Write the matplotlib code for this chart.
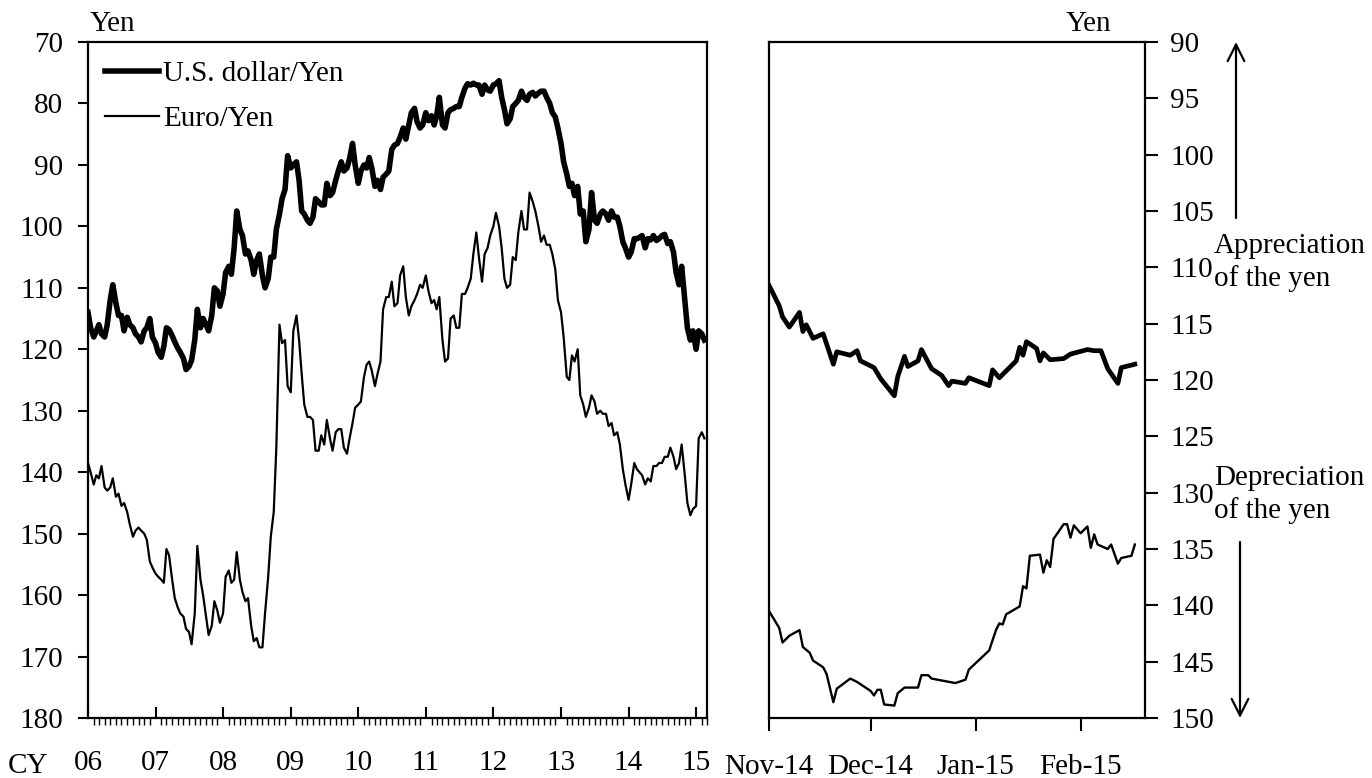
import matplotlib
matplotlib.use("Agg")
import matplotlib.pyplot as plt
import matplotlib.dates as mdates
from matplotlib.patches import FancyArrowPatch
import pandas as pd

# ---------------------------------------------------------------------------
# Data: yen exchange rates (yen per unit of foreign currency)
# Long-run panel: semi-monthly observations (1st and 15th), Jan 2006 - Feb 2015
# ---------------------------------------------------------------------------
usd_2006 = [114.0, 116.5, 118.0, 117.0, 116.0, 117.5, 118.0, 116.0, 112.0, 109.5, 112.5, 114.5,
            114.5, 117.0, 114.8, 116.0, 116.5, 117.5, 118.0, 118.8, 117.0, 116.5, 115.0, 118.0]
usd_2007 = [119.0, 120.5, 121.3, 119.5, 116.5, 116.8, 117.8, 118.8, 119.8, 120.5, 121.5, 123.3,
            122.8, 121.8, 118.5, 113.5, 116.5, 115.0, 116.0, 117.0, 114.5, 110.0, 110.5, 113.0]
usd_2008 = [111.0, 107.5, 106.5, 107.8, 103.5, 97.5, 100.5, 101.5, 104.5, 104.0, 105.5, 107.8,
            105.5, 104.5, 108.0, 110.0, 108.5, 105.0, 105.0, 100.5, 98.0, 95.5, 94.0, 88.5]
usd_2009 = [90.5, 90.0, 89.5, 92.5, 97.5, 98.0, 99.0, 99.5, 98.5, 95.5, 96.0, 96.5,
            96.5, 93.0, 95.0, 94.5, 92.5, 91.0, 89.5, 91.0, 90.5, 89.0, 86.5, 90.0]
usd_2010 = [93.0, 91.0, 90.0, 90.5, 88.8, 90.5, 93.5, 92.5, 94.0, 92.0, 91.5, 91.0,
            87.5, 86.8, 86.5, 85.5, 84.0, 85.8, 83.5, 81.5, 80.8, 83.0, 84.0, 83.5]
usd_2011 = [81.5, 82.8, 82.0, 83.5, 82.0, 79.0, 83.5, 84.0, 81.5, 81.0, 80.8, 80.5,
            80.5, 79.0, 77.5, 76.8, 77.0, 76.7, 77.0, 77.0, 78.5, 77.0, 77.8, 78.0]
usd_2012 = [77.0, 76.8, 76.3, 79.0, 81.0, 83.3, 82.5, 80.5, 80.0, 79.5, 78.0, 79.0,
            79.5, 78.5, 78.2, 78.8, 78.3, 78.0, 78.0, 79.0, 80.0, 81.5, 82.2, 84.0]
usd_2013 = [86.5, 89.5, 91.5, 93.5, 93.0, 95.0, 93.5, 98.0, 97.5, 102.5, 100.5, 94.5,
            99.0, 99.5, 98.0, 97.5, 98.0, 99.0, 97.5, 98.5, 98.5, 100.0, 102.5, 103.5]
usd_2014 = [105.0, 104.2, 102.0, 102.0, 101.8, 101.5, 103.5, 102.0, 102.2, 101.5, 102.3, 102.0,
            101.5, 101.3, 102.8, 102.5, 104.2, 107.5, 109.5, 106.5, 112.0, 116.5, 118.5, 117.0]
usd_2015 = [120.0, 117.0, 117.5, 118.5]

eur_2006 = [138.5, 140.0, 142.0, 140.5, 141.0, 139.0, 142.5, 143.0, 142.5, 141.0, 144.0, 143.5,
            145.5, 145.0, 146.5, 148.5, 150.5, 149.5, 149.0, 149.5, 150.0, 151.0, 154.5, 155.5]
eur_2007 = [156.5, 157.0, 157.5, 158.0, 152.5, 153.5, 157.5, 160.5, 162.0, 163.0, 163.5, 165.5,
            166.0, 168.0, 163.0, 152.0, 157.5, 160.0, 163.5, 166.5, 165.0, 161.0, 162.5, 164.5]
eur_2008 = [163.0, 157.0, 156.0, 158.0, 157.5, 153.0, 157.5, 159.5, 161.0, 160.5, 165.0, 167.5,
            167.0, 168.5, 168.5, 163.0, 157.0, 150.5, 146.5, 136.0, 116.0, 119.0, 118.5, 126.0]
eur_2009 = [127.0, 117.0, 114.5, 118.5, 124.0, 129.0, 131.0, 131.0, 131.5, 136.5, 136.5, 134.0,
            135.5, 131.5, 134.5, 136.5, 133.5, 133.0, 133.0, 136.0, 137.0, 134.5, 132.0, 129.5]
eur_2010 = [129.0, 128.5, 124.5, 122.5, 122.0, 123.5, 126.0, 124.0, 122.0, 113.5, 111.5, 111.5,
            109.0, 113.0, 112.5, 108.0, 106.5, 111.5, 114.5, 113.0, 112.0, 111.0, 109.5, 110.0]
eur_2011 = [108.0, 110.5, 112.5, 112.0, 113.5, 111.5, 118.5, 122.0, 121.5, 115.0, 114.5, 116.5,
            116.5, 111.0, 111.0, 110.0, 108.5, 104.5, 101.0, 105.0, 109.0, 104.5, 103.5, 101.5]
eur_2012 = [100.0, 97.8, 100.0, 103.5, 108.5, 110.0, 109.5, 105.0, 105.5, 101.0, 97.5, 100.5,
            100.5, 94.5, 96.0, 97.5, 100.0, 102.5, 101.5, 103.0, 103.0, 104.5, 107.0, 112.0]
eur_2013 = [114.0, 118.0, 124.5, 125.0, 121.0, 122.0, 120.0, 127.5, 129.0, 131.0, 129.5, 127.5,
            128.5, 130.5, 130.0, 130.5, 130.5, 132.5, 132.0, 134.0, 133.5, 135.5, 139.5, 142.0]
eur_2014 = [144.5, 142.0, 138.5, 139.5, 140.0, 140.5, 142.0, 141.0, 141.5, 139.0, 139.0, 138.5,
            138.5, 137.5, 137.5, 136.0, 137.5, 139.5, 138.5, 135.5, 140.5, 145.0, 147.0, 146.0]
eur_2015 = [145.5, 134.5, 133.5, 134.5]

long_start = "2006-01-01"
year_ticks = ["06", "07", "08", "09", "10", "11", "12", "13", "14", "15"]

# Recent panel: Nov 2014 - Feb 2015
usd_recent_dates = ["2014-11-01", "2014-11-04", "2014-11-05", "2014-11-07", "2014-11-10", "2014-11-11",
                    "2014-11-12", "2014-11-14", "2014-11-17", "2014-11-20", "2014-11-21", "2014-11-25",
                    "2014-11-27", "2014-11-28", "2014-12-02", "2014-12-04", "2014-12-08", "2014-12-09",
                    "2014-12-11", "2014-12-12", "2014-12-15", "2014-12-16", "2014-12-19", "2014-12-22",
                    "2014-12-24", "2014-12-25", "2014-12-29", "2014-12-30", "2015-01-05", "2015-01-06",
                    "2015-01-08", "2015-01-13", "2015-01-14", "2015-01-15", "2015-01-16", "2015-01-19",
                    "2015-01-20", "2015-01-21", "2015-01-23", "2015-01-27", "2015-01-29", "2015-02-03",
                    "2015-02-05", "2015-02-07", "2015-02-09", "2015-02-12", "2015-02-13", "2015-02-17"]
usd_recent = [111.6, 113.4, 114.4, 115.3, 114.0, 115.7,
              115.1, 116.3, 115.9, 118.6, 117.5, 117.8,
              117.4, 118.3, 118.9, 119.9, 121.4, 119.7,
              117.9, 118.8, 118.3, 117.3, 119.0, 119.6,
              120.5, 120.1, 120.3, 119.8, 120.5, 119.1,
              119.8, 118.3, 117.1, 117.8, 116.6, 117.2,
              118.3, 117.6, 118.2, 118.1, 117.7, 117.3,
              117.4, 117.4, 119.0, 120.3, 118.9, 118.6]

eur_recent_dates = ["2014-11-01", "2014-11-04", "2014-11-05", "2014-11-07", "2014-11-10", "2014-11-11",
                    "2014-11-13", "2014-11-14", "2014-11-17", "2014-11-18", "2014-11-20", "2014-11-21",
                    "2014-11-25", "2014-11-27", "2014-12-01", "2014-12-02", "2014-12-03", "2014-12-04",
                    "2014-12-05", "2014-12-08", "2014-12-09", "2014-12-11", "2014-12-15", "2014-12-16",
                    "2014-12-18", "2014-12-19", "2014-12-26", "2014-12-29", "2014-12-30", "2015-01-05",
                    "2015-01-07", "2015-01-08", "2015-01-09", "2015-01-10", "2015-01-14", "2015-01-15",
                    "2015-01-16", "2015-01-17", "2015-01-20", "2015-01-21", "2015-01-22", "2015-01-23",
                    "2015-01-24", "2015-01-27", "2015-01-28", "2015-01-29", "2015-01-30", "2015-02-01",
                    "2015-02-03", "2015-02-04", "2015-02-05", "2015-02-06", "2015-02-09", "2015-02-10",
                    "2015-02-12", "2015-02-13", "2015-02-16", "2015-02-17"]
eur_recent = [140.5, 142.0, 143.3, 142.7, 142.2, 143.7,
              144.2, 144.9, 145.5, 146.1, 148.6, 147.4,
              146.5, 146.8, 147.6, 148.0, 147.5, 147.5,
              148.8, 148.9, 147.8, 147.3, 147.3, 146.2,
              146.2, 146.5, 146.9, 146.6, 145.7, 144.0,
              142.2, 141.6, 141.7, 140.8, 140.1, 138.3,
              138.5, 135.6, 135.5, 137.1, 136.0, 136.6,
              134.1, 132.8, 132.8, 134.0, 132.9, 133.6,
              133.0, 134.9, 133.7, 134.6, 135.0, 134.6,
              136.3, 135.8, 135.6, 134.6]

series_labels = ["U.S. dollar/Yen", "Euro/Yen"]

# ---------------------------------------------------------------------------
plt.rcParams["font.family"] = ["Liberation Serif", "DejaVu Serif"]
plt.rcParams["font.size"] = 21
plt.rcParams["axes.linewidth"] = 1.6

W, H = 1372, 778


def fx(px):
    return px / W


def fy(py):
    return 1 - py / H


usd_long = (usd_2006 + usd_2007 + usd_2008 + usd_2009 + usd_2010 + usd_2011
            + usd_2012 + usd_2013 + usd_2014 + usd_2015)
eur_long = (eur_2006 + eur_2007 + eur_2008 + eur_2009 + eur_2010 + eur_2011
            + eur_2012 + eur_2013 + eur_2014 + eur_2015)
long_dates = pd.date_range(long_start, periods=len(usd_long), freq="SMS")

fig = plt.figure(figsize=(W / 100, H / 100), dpi=100)
fig.patch.set_facecolor("white")

# ---------------- long-run panel ----------------
axL = fig.add_axes([fx(88), fy(718), fx(707 - 88), (718 - 42) / H])
axL.plot(long_dates, usd_long, color="black", lw=4.0, solid_joinstyle="round",
         label=series_labels[0])
axL.plot(long_dates, eur_long, color="black", lw=1.6, solid_joinstyle="round",
         label=series_labels[1])
axL.set_ylim(180, 70)
axL.set_yticks(range(70, 181, 10))
axL.set_xlim(pd.Timestamp("2006-01-01"), pd.Timestamp("2015-03-01"))
axL.set_xticks(pd.date_range("2006-01-01", "2015-01-01", freq="YS"))
axL.set_xticklabels(year_ticks)
axL.xaxis.set_minor_locator(mdates.MonthLocator())
axL.tick_params(axis="x", which="major", direction="in", length=8, width=1.5, pad=23)
axL.tick_params(axis="x", which="minor", direction="out", length=5, width=1.0)
axL.tick_params(axis="y", which="major", direction="out", length=7, width=1.5, pad=11)

leg = axL.legend(loc="upper left", bbox_to_anchor=(0.027, 0.972), frameon=False,
                 handlelength=1.85, handletextpad=0.15, labelspacing=0.62,
                 borderpad=0.0, borderaxespad=0.0)

# ---------------- recent panel ----------------
axR = fig.add_axes([fx(769), fy(718), fx(1145 - 769), (718 - 42) / H])
axR.plot(pd.to_datetime(usd_recent_dates), usd_recent, color="black", lw=3.4,
         solid_joinstyle="round")
axR.plot(pd.to_datetime(eur_recent_dates), eur_recent, color="black", lw=1.7,
         solid_joinstyle="round")
axR.set_ylim(150, 90)
axR.set_yticks(range(90, 151, 5))
axR.yaxis.tick_right()
axR.set_xlim(pd.Timestamp("2014-11-01"), pd.Timestamp("2015-02-20"))
axR.xaxis.set_major_locator(mdates.MonthLocator())
axR.xaxis.set_major_formatter(mdates.DateFormatter("%b-%y"))
axR.tick_params(axis="x", which="major", direction="out", length=9, width=1.5, pad=17)
axR.tick_params(axis="y", which="major", direction="out", length=9, width=1.5, pad=9,
                left=False, right=True)

# ---------------- annotations ----------------
fig.text(fx(90), fy(24), "Yen", ha="left", va="center")
fig.text(fx(1089), fy(24), "Yen", ha="center", va="center")
fig.text(fx(28), fy(766), "CY", ha="center", va="center")

fig.text(fx(1214), fy(246), "Appreciation", ha="left", va="center")
fig.text(fx(1214), fy(279), "of the yen", ha="left", va="center")
fig.text(fx(1214), fy(478), "Depreciation", ha="left", va="center")
fig.text(fx(1214), fy(511), "of the yen", ha="left", va="center")

for x0, y_from, y_to in [(1236, 218, 42), (1240, 542, 718)]:
    fig.add_artist(FancyArrowPatch((fx(x0), fy(y_from)), (fx(x0), fy(y_to)),
                                   transform=fig.transFigure, arrowstyle="->",
                                   mutation_scale=30, lw=1.6, color="black",
                                   shrinkA=0, shrinkB=0))

fig.savefig("out.png", dpi=100, facecolor="white")
